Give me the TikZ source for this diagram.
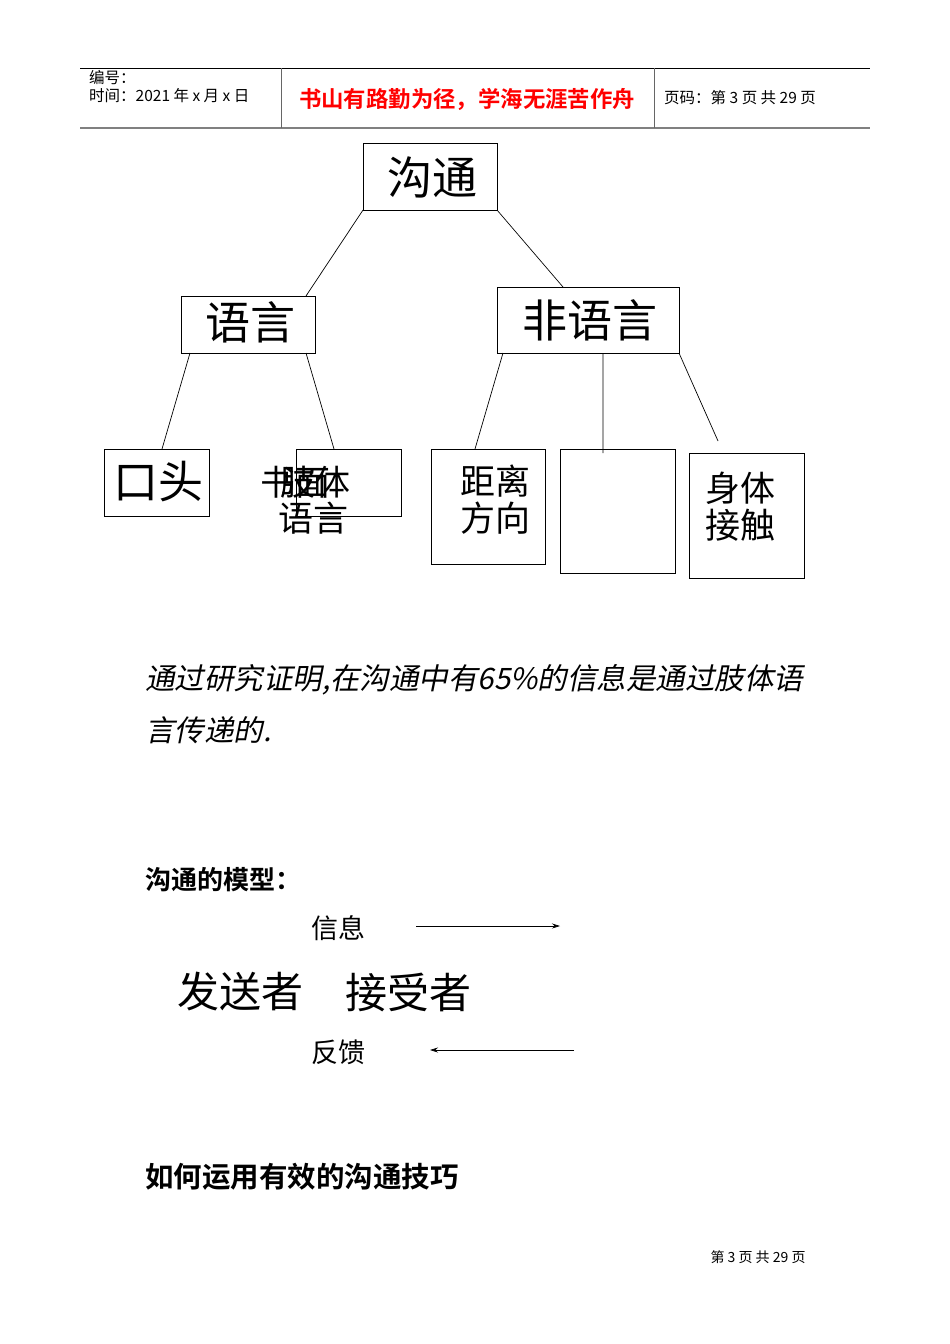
\documentclass[tikz,border=0pt]{standalone}
\usepackage{fontspec}
\usetikzlibrary{arrows.meta}
\newfontfamily\cjk{Noto Sans CJK SC}
\newfontfamily\cjkb{Noto Sans CJK SC Bold}
\newfontfamily\cjki[FakeSlant=0.2]{Noto Sans CJK SC}
\newcommand{\fs}[1]{\fontsize{#1}{#1}\selectfont}
\begin{document}
\begin{tikzpicture}[x=1pt,y=-1pt,
  bx/.style={draw,line width=0.8pt},
  ln/.style={line width=0.7pt},
  big/.style={font=\cjk\fs{45}, inner sep=0pt},
  mid/.style={font=\cjk\fs{35}, inner sep=0pt},
  txt/.style={font=\cjk\fs{27}, inner sep=0pt, anchor=west},
  arr/.style={line width=0.7pt,-{Stealth[length=8pt,width=5pt]}}]
\useasboundingbox (0,0) rectangle (950,1344);
% header
\draw[line width=0.6pt] (80,68) -- (870,68);
\draw[line width=1.2pt,gray] (80,128) -- (870,128);
\draw[line width=0.6pt,gray!80!black] (281,68) -- (281,128) (654,68) -- (654,128);
\node[font=\cjk\fs{15.5},anchor=west,inner sep=0pt] (h1) at (89,78) {编号：};
\node[font=\cjk\fs{15.5},anchor=west,inner sep=0pt] (h2) at (89,96) {时间：2021 年 x 月 x 日};
\node[font=\cjkb\fs{22.4},text=red,inner sep=0pt] (h3) at (467,99) {书山有路勤为径，学海无涯苦作舟};
\node[font=\cjk\fs{15.5},anchor=west,inner sep=0pt] (h4) at (664,98) {页码：第 3 页 共 29 页};
% tree
\draw[bx] (363,143) rectangle (497,210); \node[big] (gt) at (432,177) {沟通};
\draw[bx] (181,296) rectangle (315,353); \node[big] (yy) at (250,322) {语言};
\draw[bx] (497,287) rectangle (679,353); \node[big] (fy) at (590,320) {非语言};
\draw[ln] (363,210) -- (306,296) (497,210) -- (563,287);
\draw[ln] (190,353) -- (162,449) (306,353) -- (334,449) (503,353) -- (475,449) (603,353) -- (603,453) (679,353) -- (718,441);
\draw[bx] (104,449) rectangle (209,516); \node[big] (kt) at (158,482) {口头};
\draw[bx] (296,449) rectangle (401,516);
\node[mid] (sm) at (295,482) {书面};
\node[mid] (zt) at (315,482) {肢体};
\node[mid] (yy2) at (313,518) {语言};
\draw[bx] (431,449) rectangle (545,564);
\node[mid] (jl) at (495,481) {距离}; \node[mid] (fx) at (495,518) {方向};
\draw[bx] (560,449) rectangle (675,573);
\draw[bx] (689,453) rectangle (804,578);
\node[mid] (st) at (740,488) {身体}; \node[mid] (jc) at (740,525) {接触};
% text
\node[font=\cjki\fs{29.5},anchor=west,inner sep=0pt] (p1) at (145,680) {通过研究证明,在沟通中有65\%的信息是通过肢体语};
\node[font=\cjki\fs{29.5},anchor=west,inner sep=0pt] (p2) at (145,730) {言传递的.};
\node[font=\cjkb\fs{26},anchor=west,inner sep=0pt] (m1) at (145,880) {沟通的模型：};
\node[txt] (xx) at (311,928) {信息};
\coordinate (a1) at (416,926); \coordinate (a2) at (560,926);
\draw[arr] (a1) -- (a2);
\node[font=\cjk\fs{42},anchor=west,inner sep=0pt] (fs) at (177,992) {发送者};
\node[font=\cjk\fs{42},anchor=west,inner sep=0pt] (js) at (345,992) {接受者};
\node[txt] (fk) at (311,1052) {反馈};
\coordinate (b1) at (574,1050); \coordinate (b2) at (430,1050);
\draw[arr] (b1) -- (b2);
\node[font=\cjkb\fs{28.5},anchor=west,inner sep=0pt] (m2) at (145,1177) {如何运用有效的沟通技巧};
\node[font=\cjk\fs{14},inner sep=0pt] (ft) at (758,1257) {第 3 页 共 29 页};
\end{tikzpicture}
\end{document}
